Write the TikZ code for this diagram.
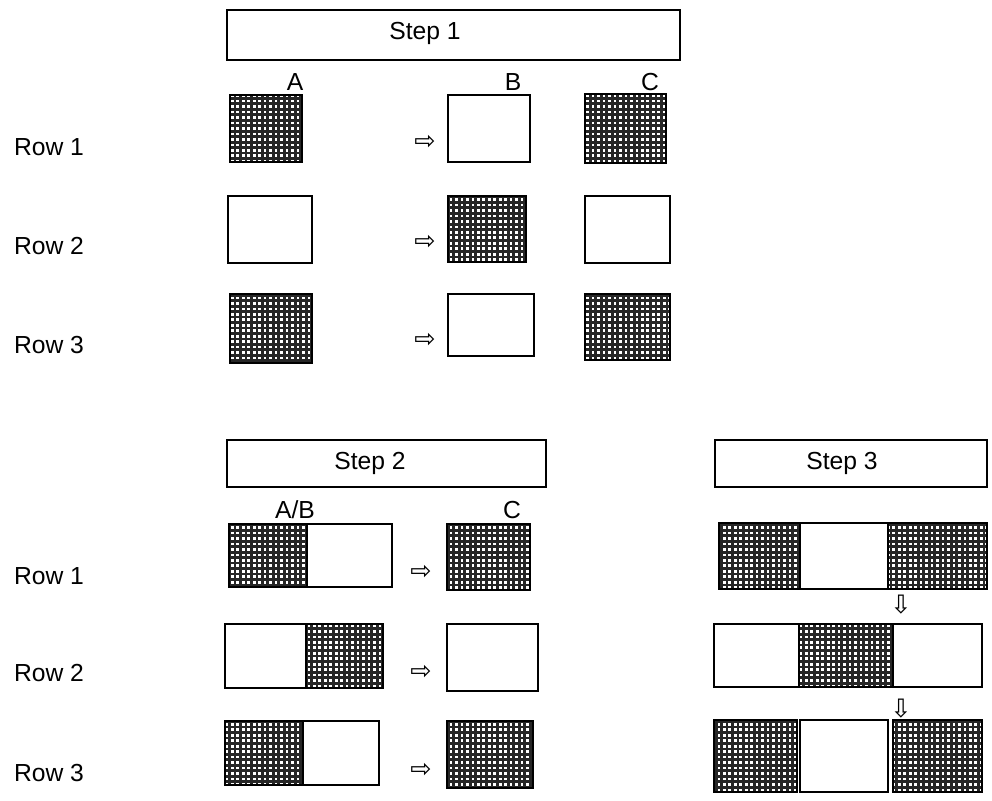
\documentclass[tikz,border=0pt]{standalone}
\usepackage{fontspec}
\setmainfont{Liberation Sans}
\newfontfamily\arrowfont{DejaVu Sans}
\begin{document}
\begin{tikzpicture}[x=0.75pt,y=-0.75pt,
  cell/.style={draw=black, line width=0.9pt, fill=white},
  hatch/.style={draw=black, line width=1.1pt, path picture={
    \fill[white] (path picture bounding box.south west) rectangle (path picture bounding box.north east);
    \draw[black!85, line width=2.1pt, step=4.1pt] (path picture bounding box.south west) grid (path picture bounding box.north east);}},
  stepbox/.style={draw=black, line width=0.9pt},
  lbl/.style={font=\fontsize{18.5}{20}\selectfont, inner sep=0pt},
  arr/.style={font=\arrowfont\fontsize{19}{20}\selectfont, inner sep=0pt}]
\useasboundingbox (0,0) rectangle (992,800);
\fill[white] (0,0) rectangle (992,800);

% ---------- Step 1 ----------
\draw[stepbox] (227,10) rectangle (680,60);
\node[lbl] (s1) at (425,33) {Step 1};
\node[lbl] (la) at (295,82) {A};
\node[lbl] (lb) at (513,82) {B};
\node[lbl] (lc) at (650,82) {C};
\node[lbl] (r11) at (49,147) {Row 1};
\node[lbl] (r12) at (49,246) {Row 2};
\node[lbl] (r13) at (49,345) {Row 3};

% row 1
\draw[hatch] (230,95) rectangle (302,162);
\node[arr] (a11) at (425,142) {⇨};
\draw[cell] (448,95) rectangle (530,162);
\draw[hatch] (585,94) rectangle (666,163);
% row 2
\draw[cell] (228,196) rectangle (312,263);
\node[arr] (a12) at (425,242) {⇨};
\draw[hatch] (448,196) rectangle (526,262);
\draw[cell] (585,196) rectangle (670,263);
% row 3
\draw[hatch] (230,294) rectangle (312,363);
\node[arr] (a13) at (425,340) {⇨};
\draw[cell] (448,294) rectangle (534,356);
\draw[hatch] (585,294) rectangle (670,360);

% ---------- Step 2 ----------
\draw[stepbox] (227,440) rectangle (546,487);
\node[lbl] (s2) at (370,463) {Step 2};
\node[lbl] (lab) at (295,510) {A/B};
\node[lbl] (lc2) at (512,510) {C};
\node[lbl] (r21) at (49,576) {Row 1};
\node[lbl] (r22) at (49,673) {Row 2};
\node[lbl] (r23) at (49,773) {Row 3};

% row 1
\draw[hatch] (229,524) rectangle (307,587);
\draw[cell] (307,524) rectangle (392,587);
\node[arr] (a21) at (421,572) {⇨};
\draw[hatch] (447,524) rectangle (530,590);
% row 2
\draw[cell] (225,624) rectangle (306,688);
\draw[hatch] (306,624) rectangle (383,688);
\node[arr] (a22) at (421,672) {⇨};
\draw[cell] (447,624) rectangle (538,691);
% row 3
\draw[hatch] (225,721) rectangle (303,785);
\draw[cell] (303,721) rectangle (379,785);
\node[arr] (a23) at (421,770) {⇨};
\draw[hatch] (447,721) rectangle (533,788);

% ---------- Step 3 ----------
\draw[stepbox] (715,440) rectangle (987,487);
\node[lbl] (s3) at (842,463) {Step 3};

% row 1
\draw[hatch] (719,523) rectangle (800,589);
\draw[cell] (800,523) rectangle (888,589);
\draw[hatch] (888,523) rectangle (987,589);
\node[arr] (d1) at (901,605) {⇩};
% row 2
\draw[cell] (714,624) rectangle (799,687);
\draw[hatch] (799,624) rectangle (893,687);
\draw[cell] (893,624) rectangle (982,687);
\node[arr] (d2) at (901,709) {⇩};
% row 3
\draw[hatch] (714,720) rectangle (797,792);
\draw[cell] (800,720) rectangle (888,792);
\draw[hatch] (893,720) rectangle (982,792);
\end{tikzpicture}
\end{document}
